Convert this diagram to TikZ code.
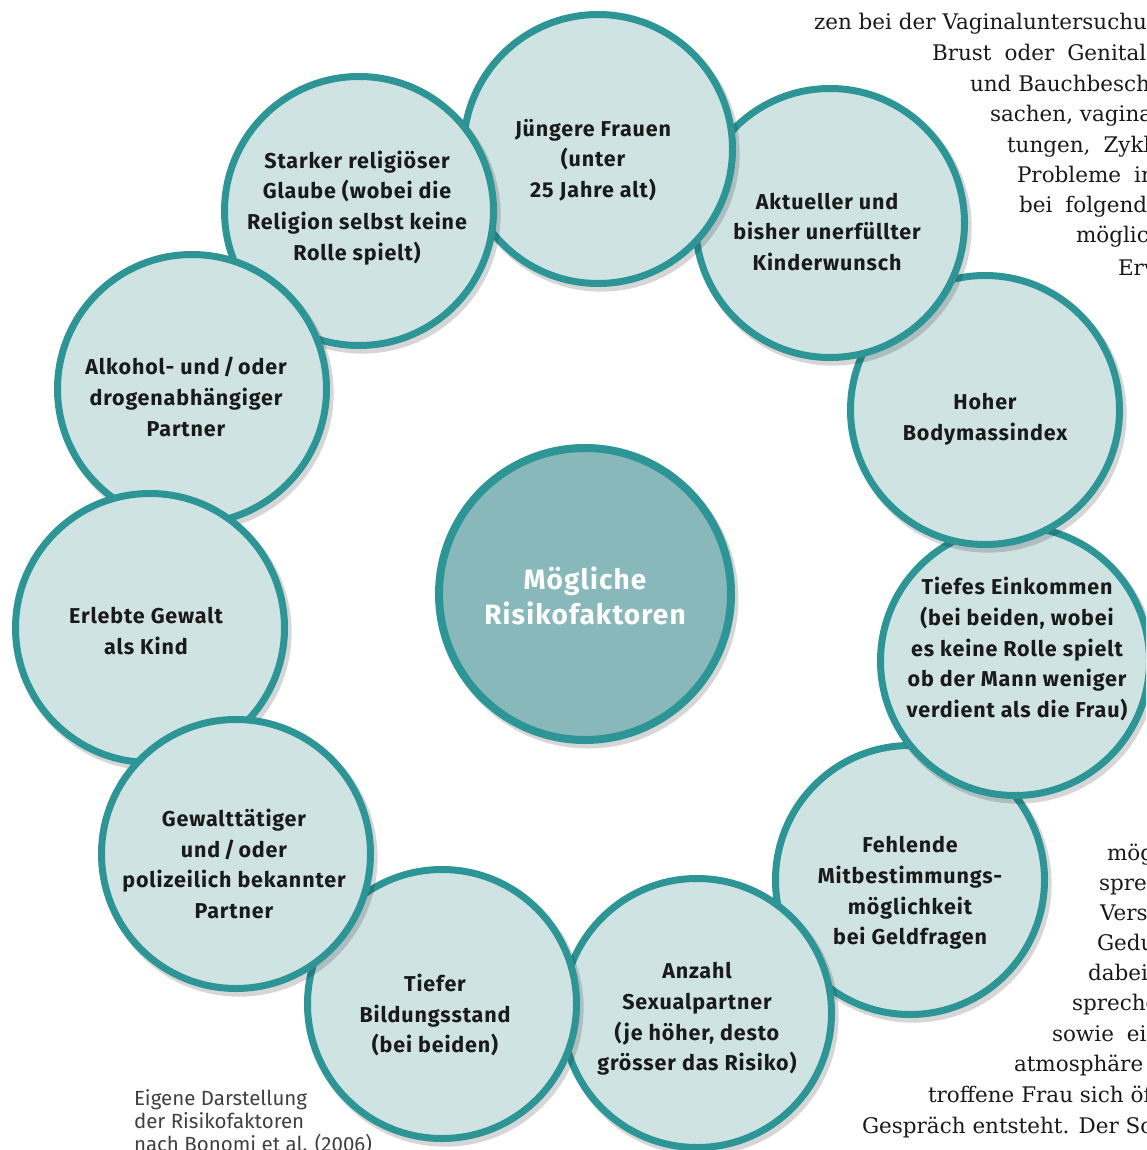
\documentclass[tikz,border=0pt]{standalone}
\usepackage{fontspec}
\setmainfont{Fira Sans}
\newfontfamily\circfont{Fira Sans}[LetterSpace=4]
\newfontfamily\pagefont{DejaVu Serif}
\usetikzlibrary{shadows}
\definecolor{ringteal}{RGB}{45,149,150}
\definecolor{paletea}{RGB}{208,227,227}
\definecolor{midtea}{RGB}{136,184,186}
\definecolor{inkgray}{RGB}{26,26,26}
\newcommand{\gap}{\hspace{13pt}}

\begin{document}
\begin{tikzpicture}[x=1pt,y=-1pt,inner sep=0pt,outer sep=0pt,
risk/.style={draw=ringteal,fill=paletea,circle,line width=7pt,minimum size=269pt,
  drop shadow={shadow xshift=3pt,shadow yshift=-4pt,shadow scale=1.03,opacity=.16,fill=black}},
hub/.style={risk,fill=midtea,line width=8pt,minimum size=292pt},
risktext/.style={align=center,text=inkgray,font=\circfont\bfseries\fontsize{21.5}{30.7}\selectfont},
hubtext/.style={align=center,text=white,font=\circfont\bfseries\fontsize{28}{35}\selectfont},
pagetext/.style={anchor=base west,text=black!90,font=\pagefont\fontsize{21.5}{25}\selectfont},
caption/.style={anchor=north west,align=left,text=black!75,font=\fontsize{20.5}{23}\selectfont}]

\useasboundingbox (0,0) rectangle (1146,1150);
\clip (0,0) rectangle (1146,1150);

% ring of risk factors, lowest first
\draw (910,880) node[risk] (fehlende) {};
\draw (fehlende) ++(0,13) node[risktext] (fehlende-t) {Fehlende\\Mitbestimmungs-\\möglichkeit\\bei Geldfragen};
\draw (1015,661) node[risk] (einkommen) {};
\draw (einkommen) ++(2,-12) node[risktext] (einkommen-t) {Tiefes Einkommen\\(bei beiden, wobei\\es keine Rolle spielt\\ob der Mann weniger\\verdient als die Frau)};
\draw (985,410) node[risk] (bmi) {};
\draw (bmi) ++(0,9) node[risktext] (bmi-t) {Hoher\\Bodymassindex};
\draw (830,223) node[risk] (kinderwunsch) {};
\draw (kinderwunsch) ++(-3,9) node[risktext] (kinderwunsch-t) {Aktueller und\\bisher unerfüllter\\Kinderwunsch};
\draw (598,149) node[risk] (alter) {};
\draw (alter) ++(-5,11) node[risktext] (alter-t) {Jüngere Frauen\\(unter\\25 Jahre alt)};
\draw (359,211) node[risk] (religion) {};
\draw (religion) ++(-2,-3) node[risktext] (religion-t) {Starker religiöser\\Glaube (wobei die\\Religion selbst keine\\Rolle spielt)};
\draw (192,389) node[risk] (alkohol) {};
\draw (alkohol) ++(-6,8) node[risktext] (alkohol-t) {Alkohol- und\,/\,oder\\drogenabhängiger\\Partner};
\draw (150,628) node[risk] (kindheit) {};
\draw (kindheit) ++(-4,3) node[risktext] (kindheit-t) {Erlebte Gewalt\\als Kind};
\draw (697,1013) node[risk] (sexpartner) {};
\draw (sexpartner) ++(0,6) node[risktext] (sexpartner-t) {Anzahl\\Sexualpartner\\(je höher, desto\\grösser das Risiko)};
\draw (442,1004) node[risk] (bildung) {};
\draw (bildung) ++(-7,11) node[risktext] (bildung-t) {Tiefer\\Bildungsstand\\(bei beiden)};
\draw (236,854) node[risk] (gewalt) {};
\draw (gewalt) ++(-2,10) node[risktext] (gewalt-t) {Gewalttätiger\\und\,/\,oder\\polizeilich bekannter\\Partner};

% centre
\draw (585,594) node[hub] (mitte) {};
\draw (mitte) ++(0,2) node[hubtext] (mitte-t) {Mögliche\\Risikofaktoren};

% caption
\draw (134,1089) node[caption] (quelle) {Eigene Darstellung\\der Risikofaktoren\\nach Bonomi et al. (2006)};

% running text of the page, cut by the figure
\draw (814,30) node[pagetext] (p1) {zen bei der Vaginaluntersuchu};
\draw (932,61) node[pagetext] (p2) {Brust\gap oder\gap Genital};
\draw (970,92) node[pagetext] (p3) {und Bauchbesch};
\draw (990,122) node[pagetext] (p4) {sachen, vagina};
\draw (1007,153) node[pagetext] (p5) {tungen,\gap Zykl};
\draw (1017,183) node[pagetext] (p6) {Probleme\gap in};
\draw (1019,213) node[pagetext] (p7) {bei\gap folgend};
\draw (1076,243) node[pagetext] (p8) {möglic};
\draw (1118,275) node[pagetext] (p9) {Erw};
\draw (1107,860) node[pagetext] (q1) {mög};
\draw (1099,890) node[pagetext] (q2) {spre};
\draw (1100,920) node[pagetext] (q3) {Vers};
\draw (1097,950) node[pagetext] (q4) {Gedu};
\draw (1088,980) node[pagetext] (q5) {dabei};
\draw (1072,1010) node[pagetext] (q6) {spreche};
\draw (1052,1041) node[pagetext] (q7) {sowie\gap ei};
\draw (1014,1071) node[pagetext] (q8) {atmosphäre};
\draw (928,1102) node[pagetext] (q9) {troffene Frau sich öff};
\draw (862,1133) node[pagetext] (q10) {Gespräch entsteht. Der Sch};

\end{tikzpicture}
\end{document}
